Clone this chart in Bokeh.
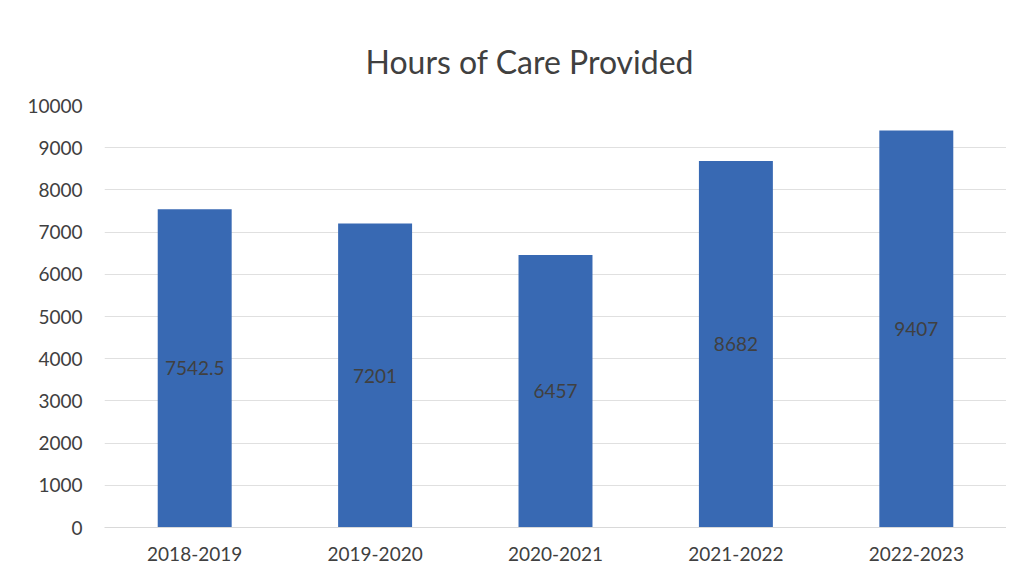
from bokeh.plotting import figure
from bokeh.models import ColumnDataSource, Range1d, FixedTicker, LabelSet
from bokeh.core.properties import value
from bokeh.embed import file_html
from bokeh.resources import INLINE

years = ["2018-2019", "2019-2020", "2020-2021", "2021-2022", "2022-2023"]
hours = [7542.5, 7201, 6457, 8682, 9407]
labels = ["7542.5", "7201", "6457", "8682", "9407"]
y_ticks = [0, 1000, 2000, 3000, 4000, 5000, 6000, 7000, 8000, 9000, 10000]

src = ColumnDataSource(dict(x=years, top=hours, mid=[h / 2 for h in hours], lab=labels))

p = figure(x_range=years, y_range=Range1d(0, 10000), width=1006, height=564,
           output_backend="svg", toolbar_location=None,
           min_border_left=104, min_border_right=0, min_border_top=105, min_border_bottom=37)
p.title.text = "Hours of Care Provided"
p.title.align = "left"
p.title.offset = 261
p.title.text_font = "Lato"
p.title.text_font_size = "32px"
p.title.text_font_style = "normal"
p.title.text_color = "#404040"
p.title.standoff = 50

p.vbar(x="x", top="top", width=0.41, source=src, fill_color="#3869b3", line_color=None)

p.add_layout(LabelSet(x="x", y="mid", text="lab", source=src, text_align="center",
                      text_baseline="middle", text_font=value("Lato"), text_font_size=value("19px"),
                      text_color="#404040"))

p.outline_line_color = None
p.background_fill_color = "white"
p.border_fill_color = "white"

p.ygrid.grid_line_color = "#e0e0e0"
p.xgrid.grid_line_color = None
p.yaxis.ticker = FixedTicker(ticks=y_ticks)
p.yaxis.axis_line_color = None
p.yaxis.major_tick_line_color = None
p.yaxis.minor_tick_line_color = None
p.yaxis.major_label_text_font = "Lato"
p.yaxis.major_label_text_font_size = "19px"
p.yaxis.major_label_text_color = "#404040"
p.yaxis.major_label_standoff = 16

p.xaxis.axis_line_color = "#d9d9d9"
p.xaxis.major_tick_line_color = None
p.xaxis.minor_tick_line_color = None
p.xaxis.major_label_text_font = "Lato"
p.xaxis.major_label_text_font_size = "19px"
p.xaxis.major_label_text_color = "#404040"
p.xaxis.major_label_standoff = 13

open("out.html", "w").write(file_html(p, INLINE))
